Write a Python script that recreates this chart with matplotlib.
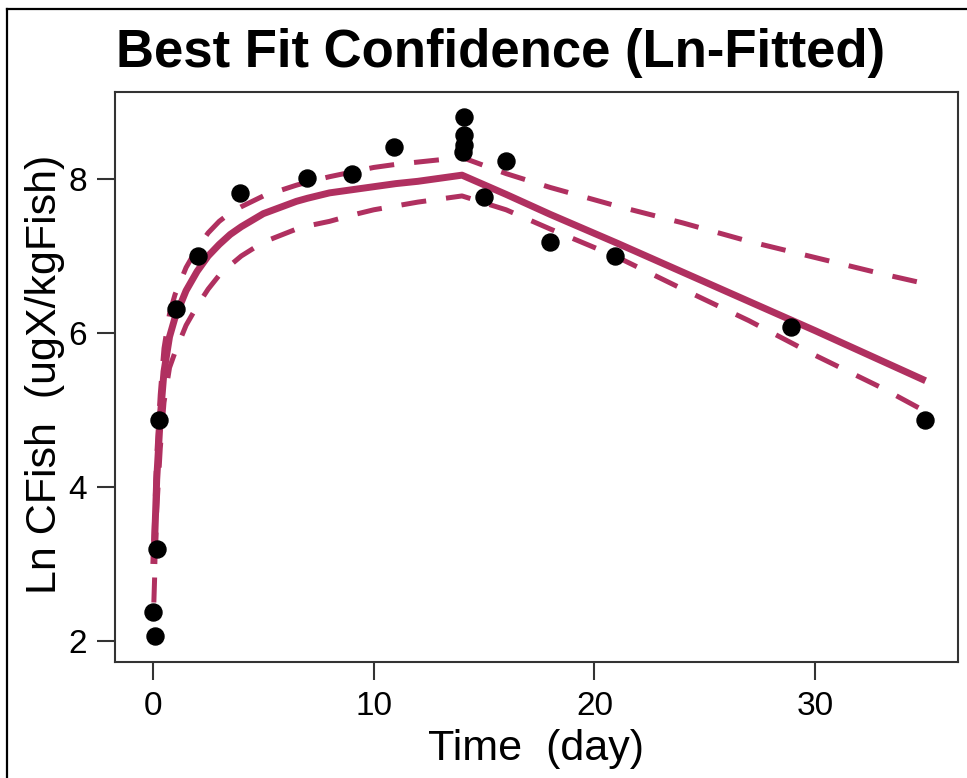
import matplotlib
matplotlib.use('Agg')
import matplotlib.pyplot as plt
from matplotlib.lines import Line2D

plt.rcParams['font.family'] = ['Liberation Sans', 'DejaVu Sans']

# observed ln concentrations
obs_time = [0.02, 0.1, 0.18, 0.27, 1.04, 2.04, 3.94, 6.98, 9.02, 10.92,
            14.1, 14.1, 14.1, 14.05, 15.0, 16.0, 18.0, 20.93, 28.9, 34.98]
obs_lnc = [2.38, 2.06, 3.19, 4.87, 6.31, 7.0, 7.82, 8.01, 8.06, 8.42,
           8.81, 8.57, 8.44, 8.35, 7.77, 8.23, 7.18, 7.0, 6.08, 4.87]

# fitted curve and confidence band
fit_time = [0.04, 0.17, 0.33, 0.5, 0.75, 1, 1.5, 2, 2.5, 3, 3.5, 4, 5, 6.5, 7, 8, 9, 10, 11, 12, 13, 14,
            16, 18, 21, 24, 27, 30, 33, 35]
fit_lnc = [3.0, 4.1, 4.9, 5.5, 5.95, 6.2, 6.55, 6.8, 7.0, 7.15, 7.28, 7.38, 7.55, 7.71, 7.75, 7.82,
           7.86, 7.9, 7.94, 7.97, 8.01, 8.05,
           7.8, 7.54, 7.17, 6.79, 6.41, 6.03, 5.64, 5.38]
upper_lnc = [3.3, 4.4, 5.2, 5.8, 6.25, 6.5, 6.85, 7.1, 7.3, 7.45, 7.56, 7.64, 7.78, 7.92, 7.96, 8.03,
             8.09, 8.15, 8.19, 8.22, 8.25, 8.28,
             8.07, 7.89, 7.65, 7.43, 7.19, 6.98, 6.77, 6.64]
lower_lnc = [2.5, 3.7, 4.5, 5.1, 5.55, 5.75, 6.1, 6.35, 6.57, 6.75, 6.88, 7.0, 7.18, 7.35, 7.39, 7.45,
             7.53, 7.6, 7.65, 7.7, 7.74, 7.78,
             7.6, 7.35, 6.99, 6.57, 6.16, 5.71, 5.29, 4.98]

x_ticks = [0, 10, 20, 30]
y_ticks = [2, 4, 6, 8]

col = '#B03060'
W, H = 967, 778

fig = plt.figure(figsize=(W / 100, H / 100), dpi=100)
ax = fig.add_axes([115 / W, 1 - 662 / H, 843 / W, 570 / H])

ax.plot(fit_time, fit_lnc, color=col, lw=5, solid_capstyle='butt', zorder=2)
ax.plot(fit_time, upper_lnc, color=col, lw=3.6, ls=(0, (5, 4)), zorder=2)
ax.plot(fit_time, lower_lnc, color=col, lw=3.6, ls=(0, (5, 4)), zorder=2)
ax.scatter(obs_time, obs_lnc, s=150, color='black', zorder=3)

ax.set_xlim(-1.72, 36.47)
ax.set_ylim(1.727, 9.13)
ax.set_xticks(x_ticks)
ax.set_yticks(y_ticks)
ax.tick_params(labelsize=24, length=13, width=1.5, color='#333333', pad=7)
ax.tick_params(axis='x', pad=8)
for sp in ax.spines.values():
    sp.set_linewidth(1.5)
    sp.set_color('#333333')

fig.text(501 / W, 1 - 67 / H, 'Best Fit Confidence (Ln-Fitted)', ha='center', va='baseline',
         fontsize=38, fontweight='bold')
fig.text(536 / W, 1 - 760 / H, 'Time  (day)', ha='center', va='baseline', fontsize=31)
fig.text(45 / W, 1 - 374 / H, 'Ln CFish  (ugX/kgFish)', ha='center', va='center',
         rotation=90, fontsize=31)

# window frame at top and left
fig.add_artist(Line2D([7 / W, 1], [1 - 9 / H, 1 - 9 / H], transform=fig.transFigure,
                      color='black', lw=1.6))
fig.add_artist(Line2D([7 / W, 7 / W], [0, 1 - 9 / H], transform=fig.transFigure,
                      color='black', lw=1.6))

fig.savefig('out.png', dpi=100)
